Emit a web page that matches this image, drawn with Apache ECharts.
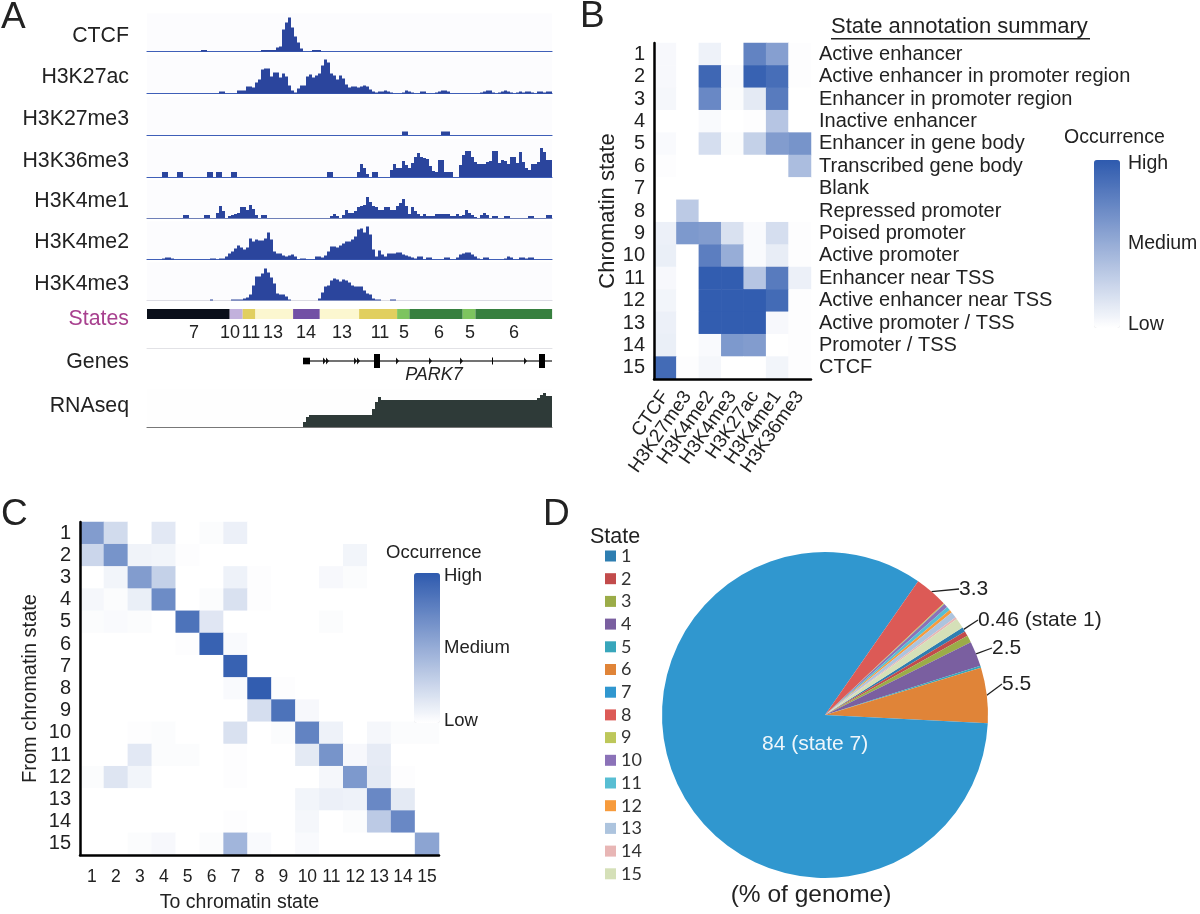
<!DOCTYPE html>
<html><head><meta charset="utf-8">
<style>html,body{margin:0;padding:0;background:#fff}#c{width:1200px;height:914px}</style>
<script src="https://cdn.jsdelivr.net/npm/echarts@6/dist/echarts.min.js"></script>
</head><body><div id="c"></div>
<script>
// ---------- Panel A data (track heights per 135 bins) ----------
const trackNames = ['CTCF','H3K27ac','H3K27me3','H3K36me3','H3K4me1','H3K4me2','H3K4me3','RNAseq'];
const ctcf = [
0,0,0,0,0,0,0,0,0,0, 0,0,0,0,0,0,0,0,1.5,1.5, 0,0,0,0,0,0,0,0,0,0,
0,0,0,0,0,0,0,0,1.5,1.5, 1.5,1.5,1.5,4,5,22,29,34,24,15, 9,3,0,0,0,1.5,1.5,1.5,0,0,
0,0,0,0,0,0,0,0,0,0, 0,0,0,0,0,0,0,0,0,0, 0,0,0,0,0,0,0,0,0,0, 0,0,0,0,0,0,0,0,0,0,
0,0,0,0,0,0,0,0,0,0, 0,0,0,0,0,0,0,0,0,0, 0,0,0,0,0,0,0,0,0,0, 0,0,0,0,0];
const h3k27ac = [
0,0,0,0,0,0,0,0,0,0, 0,0,0,0,0,0,0,0,0,0, 0,0,0,0,2,2,0,0,0,0,
3,3,3,7,7,6,11,14,24,25, 25,17,21,21,16,20,17,8,3,1, 5,8,8,17,19,16,18,20,28,34,
31,20,18,14,18,15,9,6,7,7, 6,7,8,7,4,2,1,2,2,3, 2,1,0,0,0,1,3,2,1,0, 0,2,2,0,0,0,1,2,3,3,
2,0,0,0,0,0,0,0,0,0, 0,1,2,3,3,1,0,1,2,3, 2,1,0,1,2,1,2,2,1,0, 2,2,1,2,2];
const h3k27me3 = [
0,0,0,0,0,0,0,0,0,0, 0,0,0,0,0,0,0,0,0,0, 0,0,0,0,0,0,0,0,0,0,
0,0,0,0,0,0,0,0,0,0, 0,0,0,0,0,0,0,0,0,0, 0,0,0,0,0,0,0,0,0,0,
0,0,0,0,0,0,0,0,0,0, 0,0,0,0,0,0,0,0,0,0, 0,0,0,0,0,3.5,3.5,0,0,0, 0,0,0,0,0,0,0,0,3.5,3.5,
3.5,0,0,0,0,0,0,0,0,0, 0,0,0,0,0,0,0,0,0,0, 0,0,0,0,0,0,0,0,0,0, 0,0,0,0,0];
const h3k36me3 = [
0,0,0,0,0,5,5,0,0,0, 5,5,0,0,0,0,0,0,0,0, 5,5,0,5,5,0,0,0,5,5,
0,0,0,0,0,0,0,0,0,0, 0,0,0,0,0,0,0,0,0,0, 0,0,0,0,0,0,0,0,0,0,
5,5,0,0,0,0,0,0,0,0, 5,13,9,3,0,5,5,0,0,0, 0,7,13,9,9,16,12,9,14,20, 24,20,19,18,11,6,5,17,17,5,
5,5,0,0,12,22,26,26,20,15, 13,13,13,15,16,26,26,14,17,16, 13,20,20,14,25,15,9,7,13,13, 15,29,25,17,17];
const h3k4me1 = [
0,0,0,0,0,0,0,0,0,0, 0,0,3,3,0,0,0,0,0,3, 3,0,0,5,12,7,0,2,3,4,
5,11,11,8,13,9,3,0,3,3, 0,0,0,0,0,0,0,0,0,0, 0,0,0,0,0,0,0,0,0,0,
0,2,4,2,0,3,8,5,5,7, 11,12,13,21,16,12,11,8,8,11, 11,8,8,12,15,19,12,4,11,7, 4,2,4,2,2,2,4,4,4,4,
4,2,2,4,2,3,8,5,3,1, 0,3,5,3,0,2,2,0,0,2, 2,0,0,0,0,0,0,2,2,0, 0,0,0,3,3];
const h3k4me2 = [
0,0,0,0,0,1,2,2,1,0, 0,0,0,0,0,0,0,0,0,0, 0,1,1,0,1,1,3,6,8,11,
14,12,10,12,21,18,20,19,19,21, 27,20,8,6,6,4,3,4,5,3, 0,1,1,0,0,0,3,3,2,4,
8,13,13,12,14,16,18,18,20,23, 30,31,27,33,25,10,3,9,5,3, 6,6,6,7,7,5,4,3,2,1, 3,3,0,2,2,0,0,0,0,2,
2,0,0,2,5,6,7,7,5,3, 1,0,2,2,0,0,0,0,0,1, 3,2,0,0,2,2,1,2,2,0, 0,0,0,0,0];
const h3k4me3 = [
0,0,0,0,0,0,0,0,0,0, 0,0,0,0,0,0,0,0,0,0, 0,1,0,0,0,0,0,0,1,1,
1,1,2,3,6,15,24,24,27,32, 28,23,17,7,6,6,4,1,0,0, 0,0,0,0,0,0,0,2,8,14,
15,20,22,21,19,21,20,18,15,14, 14,14,10,7,6,2,1,1,0,0, 0,1,1,0,0,0,0,0,0,0, 0,0,0,0,0,0,0,0,0,0,
0,0,0,0,0,0,0,0,0,0, 0,0,0,0,0,0,0,0,0,0, 0,0,0,0,0,0,0,0,0,0, 0,0,0,0,0];
const rnaseq = [
0,0,0,0,0,0,0,0,0,0, 0,0,0,0,0,0,0,0,0,0, 0,0,0,0,0,0,0,0,0,0,
0,0,0,0,0,0,0,0,0,0, 0,0,0,0,0,0,0,0,0,0, 0,0,5,10,12,12,12,12,12,12,
12,12,12,12,12,12,12,12,12,12, 12,12,12,12,12,18,25,30,27,27, 27,27,27,27,27,27,27,27,27,27, 27,27,27,27,27,27,27,27,27,27,
27,27,27,27,27,27,27,27,27,27, 27,27,27,27,27,27,27,27,27,27, 27,27,27,27,27,27,27,27,27,27, 29,32,34,31,31];
const binIds = ctcf.map((_, i) => i);

const stateLabels = ['7','10','11','13','14','13','11','5','6','5','6'];
const stateLengths = [82.7,13,12.7,37.7,26.7,39.3,38,12.3,53.3,12.7,76.7];
const stateLabelCentres = [47,83,104,126,159,195,233,257,292,323,367];
const stateColors = ['#0a0f1a','#c2b1dc','#e1cf5f','#fcf7d0','#7250a5','#fcf7d0','#e1cf5f','#7dc45f','#37803f','#7dc45f','#37803f'];
const geneExons = [[156,163,3.3],[227,233,7],[392,398,7]];
const geneIntron = [163,405];
const geneChevrons = [176,179,207,210,249,282,313,345,377];

// ---------- Panel B data ----------
const marks = ['CTCF','H3K27me3','H3K4me2','H3K4me3','H3K27ac','H3K4me1','H3K36me3'];
const stateNumbers = ['1','2','3','4','5','6','7','8','9','10','11','12','13','14','15'];
const annotations = ['Active enhancer','Active enhancer in promoter region','Enhancer in promoter region','Inactive enhancer','Enhancer in gene body','Transcribed gene body','Blank','Repressed promoter','Poised promoter','Active promoter','Enhancer near TSS','Active enhancer near TSS','Active promoter / TSS','Promoter / TSS','CTCF'];
const emission = [
[4,0,8,0,75,58,1],
[4,0,92,3,95,88,1],
[5,0,72,2,13,80,0],
[0,0,3,0,1,35,0],
[3,0,20,2,28,60,65],
[1,0,0,0,0,0,40],
[0,0,0,0,0,0,0],
[0,32,0,0,0,0,0],
[9,62,60,18,3,20,1],
[10,0,78,50,3,11,1],
[4,0,98,98,35,80,9],
[6,0,98,98,98,90,1],
[9,0,98,98,98,4,1],
[10,0,3,62,60,0,1],
[90,1,5,0,0,6,1]];

// ---------- Panel C data ----------
const transitions = [
[60,22,0,14,0,2,9,0,0,0,0,0,0,0,0],
[25,65,7,6,1,0,0,0,0,0,0,6,0,0,0],
[0,6,60,28,0,0,8,1,0,0,4,2,0,0,0],
[5,2,10,70,0,2,18,1,0,0,0,0,0,0,0],
[2,3,2,0,85,15,0,0,0,0,2,0,0,0,0],
[0,0,0,0,1,95,3,0,0,0,0,0,0,0,0],
[0,0,0,0,0,0,95,0,0,0,0,0,0,0,0],
[0,0,0,0,0,0,3,98,1,0,0,0,0,0,0],
[0,0,0,0,0,0,0,20,85,4,0,0,0,0,0],
[0,0,1,2,0,0,18,0,2,75,8,0,5,2,2],
[0,0,14,2,2,0,1,0,0,13,65,4,12,0,0],
[2,16,6,0,0,0,1,0,0,0,5,62,13,1,0],
[0,0,0,0,0,0,0,0,0,6,9,8,72,13,0],
[0,0,0,0,0,0,1,0,0,5,0,2,32,72,0],
[0,0,2,4,0,2,45,3,0,3,0,0,0,0,55]];

// ---------- Panel D data ----------
const pieValues = [0.46,0.5,0.7,2.5,0.2,5.5,84,3.3,0.1,0.4,0.4,0.3,0.6,0.2,1.0];
const pieColors = ['#2e7eb1','#c24b4b','#9bac48','#7a5fa0','#38a6bb','#e08438','#3097cf','#dc5a56','#bdc75a','#8b72b8','#58bed3','#f79b3c','#adc4de','#e8b6b5','#d5e0b8'];
const pieLabelTexts = {0:'0.46 (state 1)',3:'2.5',5:'5.5',6:'84 (state 7)',7:'3.3'};

// ---------- helpers ----------
const FONT = '"Liberation Sans", Arial, sans-serif';
const INK = '#222';
const BLUE = '#2b459d';
function txt(x,y,text,size,opt){opt=opt||{};return {type:'text',z:100,silent:true,rotation:opt.rot||0,x:x,y:y,style:{text:text,x:0,y:0,fill:opt.fill||INK,font:(opt.style||'')+' '+size+'px '+FONT,textAlign:opt.align||'left',align:opt.align||'left',textVerticalAlign:'middle',verticalAlign:'middle'}};}

const grids=[],xAxes=[],yAxes=[],series=[];
const trackData=[ctcf,h3k27ac,h3k27me3,h3k36me3,h3k4me1,h3k4me2,h3k4me3,rnaseq];
const baselines=[51.5,93.5,135,177,218,259.5,300.5,427];
const trackColor=[BLUE,BLUE,BLUE,BLUE,BLUE,BLUE,BLUE,'#2e3a38'];
const lineColor=['#3f5fb8','#3f5fb8','#3f5fb8','#3f5fb8','#6f80b8','#3f5fb8','#dcdce4','#777'];
trackData.forEach((d,i)=>{
  grids.push({left:147,width:405,top:baselines[i]-38,height:38,show:true,backgroundColor:i===7?'#fefefe':'#fcfcfe',borderWidth:0});
  xAxes.push({gridIndex:i,type:'category',data:binIds,axisTick:{show:false},axisLabel:{show:false},axisLine:{lineStyle:{color:lineColor[i],width:1.2}}});
  yAxes.push({gridIndex:i,type:'value',min:0,max:38,show:false,splitLine:{show:false}});
  series.push({type:'bar',xAxisIndex:i,yAxisIndex:i,data:d,barWidth:'100%',barGap:0,itemStyle:{color:trackColor[i]},silent:true});
});
// states
let g=grids.length;
grids.push({left:147,width:405,top:309,height:10});
xAxes.push({gridIndex:g,type:'value',min:0,max:405,show:false,splitLine:{show:false}});
yAxes.push({gridIndex:g,type:'value',min:0,max:1,show:false,splitLine:{show:false}});
let cum=0;
const stateData=stateLengths.map((w,i)=>{const r=[cum,cum+w,stateLabelCentres[i],i];cum+=w;return r;});
series.push({type:'custom',xAxisIndex:g,yAxisIndex:g,silent:true,clip:false,data:stateData,
  renderItem:(p,api)=>{
    const a=api.coord([api.value(0),1]),b=api.coord([api.value(1),0]),c=api.coord([api.value(2),0]);
    const i=api.value(3);
    return {type:'group',children:[
      {type:'rect',shape:{x:a[0],y:a[1],width:b[0]-a[0],height:b[1]-a[1]},style:{fill:stateColors[i]}},
      {type:'text',x:c[0],y:c[1]+14,style:{text:stateLabels[i],fill:INK,font:'18px '+FONT,align:'center',verticalAlign:'middle'}}
    ]};
  }});
// genes
g=grids.length;
grids.push({left:147,width:405,top:348,height:26});
xAxes.push({gridIndex:g,type:'value',min:0,max:405,position:'top',axisTick:{show:false},axisLabel:{show:false},splitLine:{show:false},axisLine:{onZero:false,lineStyle:{color:'#e2e2e6',width:1}}});
yAxes.push({gridIndex:g,type:'value',min:-13,max:13,show:false,splitLine:{show:false}});
const geneData=[[geneIntron[0],geneIntron[1],0.8]].concat(geneExons).map(e=>[e[0],e[1],e[2],0]).concat(geneChevrons.map(x=>[x,x+(x===345?1:3),3.4,x===345?0:1]));
series.push({type:'custom',xAxisIndex:g,yAxisIndex:g,silent:true,data:geneData,
  renderItem:(p,api)=>{
    const x0=api.value(0),x1=api.value(1),h=api.value(2);
    const a=api.coord([x0,h]),b=api.coord([x1,-h]);
    if(api.value(3)===1){
      return {type:'polygon',shape:{points:[[a[0],a[1]],[b[0],(a[1]+b[1])/2],[a[0],b[1]]]},style:{fill:'#111'}};
    }
    return {type:'rect',shape:{x:a[0],y:a[1],width:b[0]-a[0],height:b[1]-a[1]},style:{fill:h<1?'#444':'#000'}};
  }});
// heatmap B
const gB=grids.length;
grids.push({left:654,top:43,width:157,height:336});
xAxes.push({gridIndex:gB,z:5,type:'category',data:marks,position:'bottom',axisTick:{show:false},splitLine:{show:false},axisLine:{lineStyle:{color:'#000',width:2.5}},axisLabel:{rotate:55,fontSize:19,fontFamily:FONT,color:INK,margin:14,interval:0}});
yAxes.push({gridIndex:gB,z:5,type:'category',data:stateNumbers,inverse:true,position:'left',axisTick:{show:false},splitLine:{show:false},axisLine:{lineStyle:{color:'#000',width:2.5}},axisLabel:{fontSize:20,fontFamily:FONT,color:INK,margin:9,interval:0,padding:[0,0,3,0]},
  name:'Chromatin state',nameLocation:'middle',nameGap:28,nameRotate:90,nameTextStyle:{fontSize:22,fontFamily:FONT,color:INK}});
const yAnn=yAxes.length;
yAxes.push({gridIndex:gB,type:'category',data:annotations,inverse:true,position:'right',axisTick:{show:false},splitLine:{show:false},axisLine:{show:false},axisLabel:{fontSize:20,fontFamily:FONT,color:INK,margin:8,interval:0,padding:[0,0,3,0]}});
const dataB=[];emission.forEach((r,y)=>r.forEach((v,x)=>dataB.push([x,y,v])));
const sB=series.length;
series.push({type:'heatmap',xAxisIndex:gB,yAxisIndex:gB,data:dataB,silent:true});
series.push({type:'custom',xAxisIndex:gB,yAxisIndex:yAnn,data:[],renderItem:()=>null,silent:true});
// heatmap C
const gC=grids.length;
grids.push({left:80,top:522,width:359,height:341});
xAxes.push({gridIndex:gC,z:5,type:'category',data:stateNumbers,position:'bottom',axisTick:{show:false},splitLine:{show:false},axisLine:{lineStyle:{color:'#000',width:2.5}},axisLabel:{fontSize:17.5,fontFamily:FONT,color:INK,margin:13,interval:0},
  name:'To chromatin state',nameLocation:'middle',nameGap:38,nameTextStyle:{fontSize:19.5,fontFamily:FONT,color:INK,padding:[0,40,0,0]}});
const yC=yAxes.length;
yAxes.push({gridIndex:gC,z:5,type:'category',data:stateNumbers,inverse:true,position:'left',axisTick:{show:false},splitLine:{show:false},axisLine:{lineStyle:{color:'#000',width:2.5}},axisLabel:{fontSize:20,fontFamily:FONT,color:INK,margin:9,interval:0,padding:[0,0,3,0]},
  name:'From chromatin state',nameLocation:'middle',nameGap:40,nameRotate:90,nameTextStyle:{fontSize:20,fontFamily:FONT,color:INK}});
const dataC=[];transitions.forEach((r,y)=>r.forEach((v,x)=>dataC.push([x,y,v])));
const sC=series.length;
series.push({type:'heatmap',xAxisIndex:gC,yAxisIndex:yC,data:dataC,silent:true});
// pie
series.push({type:'pie',center:[825,715],radius:163,startAngle:32.5,clockwise:true,avoidLabelOverlap:false,silent:true,
  data:pieValues.map((v,i)=>({name:stateNumbers[i],value:v,itemStyle:{color:pieColors[i]},
    label:{show:pieLabelTexts[i]!==undefined,formatter:pieLabelTexts[i]||'',fontSize:21,fontFamily:FONT,color:i===6?'#eef6fb':INK,position:i===6?'inside':'outside',padding:i===6?0:[0,0,0,4]},
    labelLine:{show:pieLabelTexts[i]!==undefined&&i!==6,length:1,length2:0,lineStyle:{color:'#222',width:1.3}}})),
  labelLayout:p=>{
    const pos={0:[974,620],3:[988,648],5:[998,684],6:[762,744],7:[955,589]}[p.dataIndex];
    return pos?{x:pos[0],y:pos[1],align:'left',verticalAlign:'middle'}:{};
  }});

const graphic=[
  txt(1,18,'A',37),txt(580,17,'B',37),txt(1,515,'C',37),txt(543,515,'D',37),
  txt(129,36,'CTCF',21.3,{align:'right'}),txt(129,77,'H3K27ac',21.3,{align:'right'}),txt(129,119,'H3K27me3',21.3,{align:'right'}),
  txt(129,161,'H3K36me3',21.3,{align:'right'}),txt(129,201,'H3K4me1',21.3,{align:'right'}),txt(129,242,'H3K4me2',21.3,{align:'right'}),
  txt(129,284,'H3K4me3',21.3,{align:'right'}),txt(129,319,'States',21.3,{align:'right',fill:'#a8418f'}),
  txt(129,362,'Genes',21.3,{align:'right'}),txt(129,406,'RNAseq',21.3,{align:'right'}),
  txt(434,375,'PARK7',18,{align:'center',style:'italic'}),
  txt(831,27,'State annotation summary',22),
  {type:'rect',z:100,silent:true,shape:{x:831,y:38,width:259,height:1.4},style:{fill:INK}},
  txt(1064,138,'Occurrence',19.5),txt(1128,164,'High',19.5),txt(1128,244,'Medium',19.5),txt(1128,325,'Low',19.5),
  txt(386,553,'Occurrence',18.5),txt(444,576,'High',18.5),txt(444,648,'Medium',18.5),txt(444,721,'Low',18.5),
  txt(590,537,'State',21.5),txt(811,895,'(% of genome)',24.5,{align:'center'})
];

const option={animation:false,backgroundColor:'#fff',textStyle:{fontFamily:FONT},
  grid:grids,xAxis:xAxes,yAxis:yAxes,series:series,graphic:graphic,
  legend:{show:true,orient:'vertical',left:600,top:542,itemWidth:11,itemHeight:11,itemGap:4.7,selectedMode:false,icon:'rect',
    data:stateNumbers,textStyle:{fontFamily:'Lato',fontSize:18,color:'#333'}},
  visualMap:[
    {type:'continuous',seriesIndex:sB,min:0,max:100,left:1079,top:145,itemWidth:26,itemHeight:168,calculable:false,hoverLink:false,text:null,showLabel:false,inRange:{color:['#ffffff','#2e5aae']},handleStyle:{opacity:0},indicatorStyle:{opacity:0}},
    {type:'continuous',seriesIndex:sC,min:0,max:100,left:399,top:558,itemWidth:26,itemHeight:150,calculable:false,hoverLink:false,text:null,showLabel:false,inRange:{color:['#ffffff','#2e5aae']},handleStyle:{opacity:0},indicatorStyle:{opacity:0}}
  ]};
echarts.init(document.getElementById('c'),null,{renderer:'canvas'}).setOption(option);
</script></body></html>
